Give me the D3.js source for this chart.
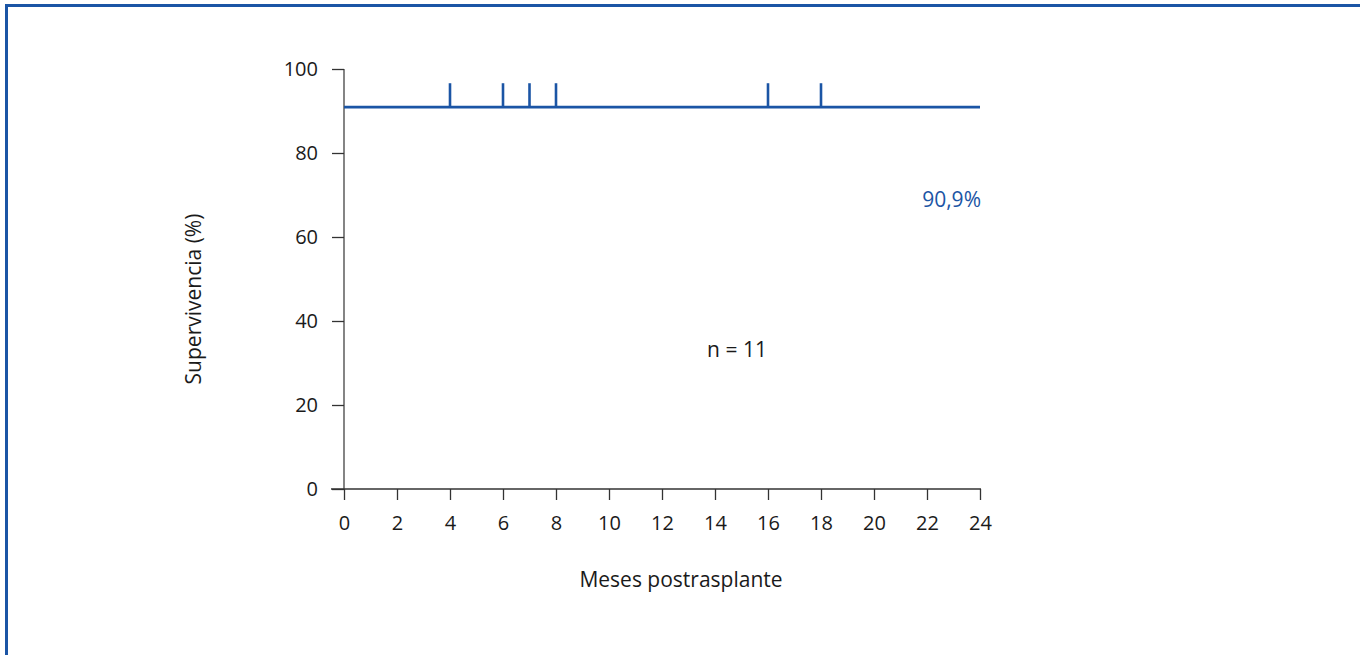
<!DOCTYPE html>
<html>
<head>
<meta charset="utf-8">
<script src="https://cdn.jsdelivr.net/npm/d3@7"></script>
<style>
  body { margin: 0; background: #fff; }
  svg { display: block; }
</style>
</head>
<body>
<script>
// survival curve (Kaplan-Meier), censored observations and axis ticks
var times = [0, 24];
var survival = [90.9, 90.9];
var censored = [4, 6, 7, 8, 16, 18];
var xTicks = [0, 2, 4, 6, 8, 10, 12, 14, 16, 18, 20, 22, 24];
var yTicks = [0, 20, 40, 60, 80, 100];

var blue = '#1b55a5', ink = '#1a1a1a';
var font = '"Open Sans", sans-serif';

var svg = d3.select('body')
    .append('svg')
    .attr('width', 1360)
    .attr('height', 655);

// frame (open on right and bottom)
svg.append('rect')
    .attr('x', 6.5).attr('y', 5.5)
    .attr('width', 1400).attr('height', 700)
    .attr('fill', 'none')
    .attr('stroke', blue)
    .attr('stroke-width', 3);

var x = d3.scaleLinear().domain([0, 24]).range([344, 980]);
var y = d3.scaleLinear().domain([0, 100]).range([489, 69]);

// y axis
var gy = svg.append('g')
    .attr('transform', 'translate(344,0)')
    .call(d3.axisLeft(y).tickValues(yTicks).tickSize(12).tickPadding(14));
gy.select('.domain').attr('stroke', '#666').attr('stroke-width', 1.6)
    .attr('d', 'M0,' + y(100) + 'V' + y(0));
gy.selectAll('.tick line').attr('stroke', '#333').attr('stroke-width', 1.3);
gy.selectAll('.tick text')
    .attr('fill', ink)
    .style('font', '20px ' + font);

// x axis
var gx = svg.append('g')
    .attr('transform', 'translate(0,489)')
    .call(d3.axisBottom(x).tickValues(xTicks).tickSize(11).tickPadding(16));
gx.select('.domain').attr('stroke', '#333').attr('stroke-width', 1.3)
    .attr('d', 'M' + (x(0) - 13) + ',0H' + (x(24) + 1));
gx.selectAll('.tick line').attr('stroke', '#333').attr('stroke-width', 1.3);
gx.selectAll('.tick text')
    .attr('fill', ink)
    .style('font', '20px ' + font);

// survival line
var pts = times.map(function(t, i) { return [t, survival[i]]; });
var line = d3.line()
    .x(function(d) { return x(d[0]); })
    .y(function(d) { return y(d[1]); })
    .curve(d3.curveStepAfter);

svg.append('path')
    .datum(pts)
    .attr('d', line)
    .attr('fill', 'none')
    .attr('stroke', blue)
    .attr('stroke-width', 2.8);

// censor marks
svg.selectAll('line.censor')
    .data(censored)
    .enter()
    .append('line')
    .attr('class', 'censor')
    .attr('x1', function(d) { return x(d); })
    .attr('x2', function(d) { return x(d); })
    .attr('y1', y(90.9) - 24)
    .attr('y2', y(90.9))
    .attr('stroke', blue)
    .attr('stroke-width', 2.6);

// annotations
svg.append('text')
    .attr('x', x(24) + 1).attr('y', 207)
    .attr('text-anchor', 'end')
    .attr('fill', blue)
    .style('font', '21px ' + font)
    .text('90,9%');

svg.append('text')
    .attr('x', 737).attr('y', 357)
    .attr('text-anchor', 'middle')
    .attr('fill', ink)
    .style('font', '21px ' + font)
    .text('n = 11');

svg.append('text')
    .attr('x', 681).attr('y', 587)
    .attr('text-anchor', 'middle')
    .attr('fill', ink)
    .style('font', '21px ' + font)
    .text('Meses postrasplante');

svg.append('text')
    .attr('transform', 'translate(201,299) rotate(-90)')
    .attr('text-anchor', 'middle')
    .attr('fill', ink)
    .style('font', '21px ' + font)
    .text('Supervivencia (%)');
</script>
</body>
</html>
